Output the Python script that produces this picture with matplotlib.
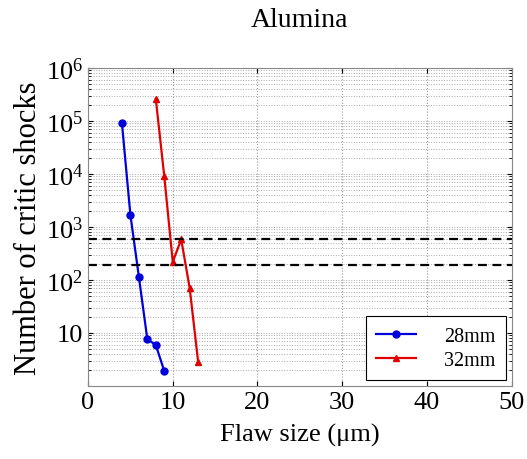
import numpy as np
import matplotlib.pyplot as plt
from matplotlib.ticker import FixedLocator, LogLocator, NullFormatter

plt.rcParams['font.family'] = ['Liberation Serif', 'DejaVu Serif']
plt.rcParams['mathtext.fontset'] = 'custom'
plt.rcParams['mathtext.rm'] = 'Liberation Serif'
plt.rcParams['mathtext.it'] = 'Liberation Serif:italic'

# 28mm series
flaw_28 = [4, 5, 6, 7, 8, 9]
shocks_28 = [92000, 1700, 115, 7.6, 5.9, 1.9]

# 32mm series
flaw_32 = [8, 9, 10, 11, 12, 13]
shocks_32 = [260000, 9000, 220, 580, 70, 2.8]

# horizontal reference levels
ref_levels = [580, 190]

fig = plt.figure(figsize=(5.27, 4.6), dpi=100)
ax = fig.add_axes([0.167, 0.159, 0.804, 0.691])

ax.semilogy(flaw_28, shocks_28, color='#0000dd', marker='o', markersize=5, linewidth=1.6, label='28mm')
ax.semilogy(flaw_32, shocks_32, color='#e00000', marker='^', markersize=5, linewidth=1.6, label='32mm')
for lv in ref_levels:
    ax.axhline(lv, color='black', linestyle='--', linewidth=1.6, dashes=(4, 2.5))

ax.set_xlim(0, 50)
ax.set_ylim(1, 1e6)
ax.set_xticks([0, 10, 20, 30, 40, 50])
ax.yaxis.set_major_locator(FixedLocator([10, 1e2, 1e3, 1e4, 1e5, 1e6]))
ax.set_yticklabels(['10', '$\\mathregular{10^2}$', '$\\mathregular{10^3}$', '$\\mathregular{10^4}$',
                    '$\\mathregular{10^5}$', '$\\mathregular{10^6}$'])
ax.yaxis.set_minor_locator(LogLocator(base=10, subs=np.arange(2, 10), numticks=20))
ax.yaxis.set_minor_formatter(NullFormatter())

ax.tick_params(which='both', direction='in', top=True, right=True, labelsize=19)
ax.tick_params(which='minor', length=2)
ax.grid(True, which='major', axis='x', linestyle=':', color='#999999', linewidth=0.8)
ax.grid(True, which='both', axis='y', linestyle=':', color='#aaaaaa', linewidth=0.7)
for s in ax.spines.values():
    s.set_color('#888888')

ax.set_xlabel('Flaw size (μm)', fontsize=19, labelpad=7)
ax.set_ylabel('Number of critic shocks', fontsize=22, labelpad=2)
ax.set_title('Alumina', fontsize=20, pad=30)

leg = ax.legend(loc='lower right', fontsize=14.5, fancybox=False, framealpha=1,
                edgecolor='black', borderaxespad=0.3, handlelength=2.0,
                handletextpad=1.4, borderpad=0.5, labelspacing=0.25)
leg.get_frame().set_linewidth(0.8)

fig.savefig('out.png', dpi=100)
